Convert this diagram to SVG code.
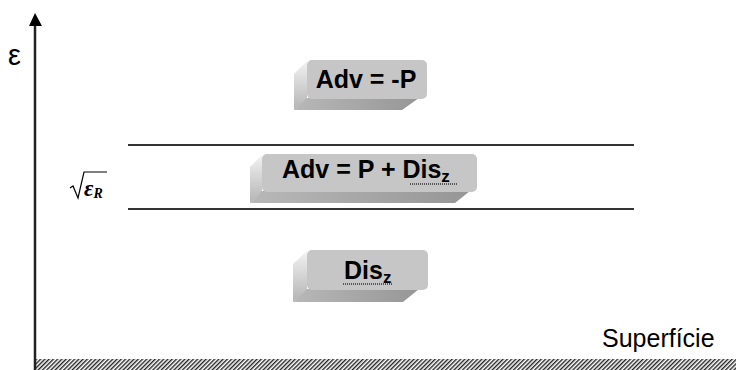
<svg xmlns="http://www.w3.org/2000/svg" width="736" height="370" viewBox="0 0 736 370">
  <defs>
    <linearGradient id="sideGrad" x1="0" y1="0" x2="0" y2="1">
      <stop offset="0" stop-color="#f2f2f2"/>
      <stop offset="1" stop-color="#b4b4b4"/>
    </linearGradient>
    <linearGradient id="baseGrad" x1="0" y1="0" x2="1" y2="0">
      <stop offset="0" stop-color="#b8b8b8"/>
      <stop offset="1" stop-color="#969696"/>
    </linearGradient>
    <pattern id="hatch" width="3" height="3" patternUnits="userSpaceOnUse" patternTransform="rotate(45)">
      <rect width="3" height="3" fill="#ffffff"/>
      <rect width="1.4" height="3" fill="#222222"/>
    </pattern>
  </defs>
  <style>
    .face { fill: #c6c6c6; }
    .side { fill: url(#sideGrad); }
    .base { fill: url(#baseGrad); }
    .lbl { font-family: "Liberation Sans", Arial, sans-serif; font-weight: bold; font-size: 25px; fill: #000; }
    .sub { font-size: 17px; }
    .wavy { stroke: #555; stroke-width: 2; stroke-dasharray: 1 1; fill: none; }
    .band { stroke: #333; stroke-width: 2; }
    .txt { font-family: "Liberation Sans", Arial, sans-serif; fill: #000; }
  </style>

  <rect width="736" height="370" fill="#ffffff"/>

  <!-- ground surface -->
  <rect x="36" y="359" width="700" height="11" fill="url(#hatch)"/>

  <!-- vertical epsilon axis -->
  <g id="axis">
    <line x1="35" y1="370" x2="35" y2="24" stroke="#222" stroke-width="2.5"/>
    <polygon points="35,13 29,26 42,26" fill="#000"/>
    <text class="txt" x="8" y="65" font-size="29">ε</text>
  </g>

  <!-- band limits -->
  <g id="limits">
    <line class="band" x1="128" y1="145" x2="634" y2="145"/>
    <line class="band" x1="128" y1="209" x2="634" y2="209"/>
  </g>

  <!-- sqrt(eps_R) marker -->
  <g id="sqrt-epsR">
    <path d="M70,188 L73,186 L78,198 L84,172 L107,172" fill="none" stroke="#000" stroke-width="1.2"/>
    <text x="84" y="196" font-family="'Liberation Serif', 'Times New Roman', serif" font-style="italic" font-weight="bold" font-size="23">ε<tspan font-size="14" dy="2">R</tspan></text>
  </g>

  <!-- upper region -->
  <g id="box-adv-neg">
    <polygon class="side" points="307,61 294,74 294,110 307,99"/>
    <polygon class="base" points="307,98 294,110 402,110 419,98"/>
    <rect class="face" x="307" y="60" width="120" height="39" rx="5"/>
    <text class="lbl" x="366" y="88" text-anchor="middle">Adv = -P</text>
  </g>

  <!-- middle region -->
  <g id="box-adv-mid">
    <polygon class="side" points="262,155 250,167 250,203 262,192"/>
    <polygon class="base" points="262,191 250,203 455,203 470,191"/>
    <rect class="face" x="262" y="154" width="215" height="38" rx="5"/>
    <text class="lbl" x="282" y="178" font-size="26">Adv = P + Dis<tspan class="sub" dy="4">z</tspan></text>
    <line class="wavy" x1="410" y1="184" x2="457" y2="184"/>
  </g>

  <!-- lower region -->
  <g id="box-dis">
    <polygon class="side" points="307,251 293,264 293,302 307,290"/>
    <polygon class="base" points="307,289 293,302 403,302 419,289"/>
    <rect class="face" x="307" y="250" width="121" height="40" rx="5"/>
    <text class="lbl" x="344" y="279">Dis<tspan class="sub" dy="4">z</tspan></text>
    <line class="wavy" x1="343" y1="284" x2="393" y2="284"/>
  </g>

  <!-- surface label -->
  <text class="txt" x="602" y="347" font-size="25">Superfície</text>
</svg>
